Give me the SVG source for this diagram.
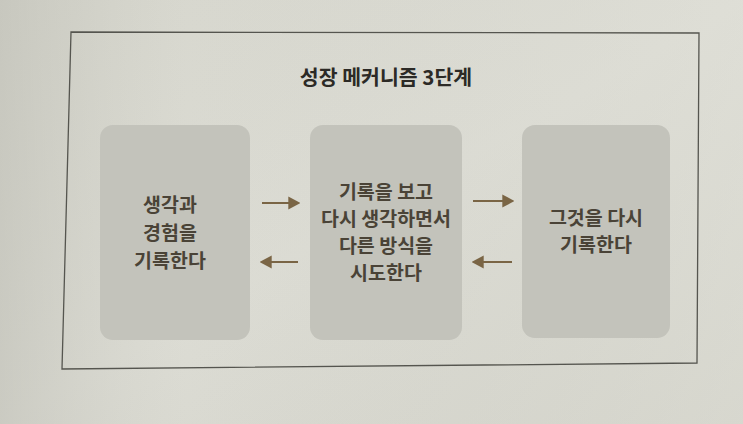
<svg xmlns="http://www.w3.org/2000/svg" width="743" height="424" viewBox="0 0 743 424">
<defs>
<linearGradient id="paper" x1="0" y1="0" x2="1" y2="1">
<stop offset="0" stop-color="#d6d6cd"/>
<stop offset="0.5" stop-color="#dcdcd4"/>
<stop offset="1" stop-color="#d2d2c9"/>
</linearGradient>
<linearGradient id="shade" x1="0" y1="0" x2="1" y2="0">
<stop offset="0" stop-color="#b9b9b0" stop-opacity="0.5"/>
<stop offset="0.25" stop-color="#c9c9c0" stop-opacity="0"/>
<stop offset="1" stop-color="#e4e4dc" stop-opacity="0.3"/>
</linearGradient>
<marker id="ah" viewBox="0 0 10 10" refX="8" refY="5" markerWidth="5.5" markerHeight="6" orient="auto" markerUnits="strokeWidth" preserveAspectRatio="none">
<path d="M0,0 L10,5 L0,10 Z" fill="#7a6545"/>
</marker>
<style>
.box{fill:#c3c3bb;}
.t{font-family:"Noto Sans CJK KR","Noto Sans",sans-serif;font-weight:bold;font-size:19.5px;fill:#4a4337;text-anchor:middle;}
.title{font-family:"Noto Sans CJK KR","Noto Sans",sans-serif;font-weight:bold;font-size:20.5px;fill:#2c2a26;text-anchor:middle;}
.arr{stroke:#7a6545;stroke-width:2.2;fill:none;marker-end:url(#ah);}
</style>
</defs>
<rect width="743" height="424" fill="url(#paper)"/>
<rect width="743" height="424" fill="url(#shade)"/>
<path d="M71,32 L699,33 L697,363 L62,369 Z" fill="none" stroke="#55554f" stroke-width="1.3"/>
<text class="title" x="386" y="85">성장 메커니즘 3단계</text>
<g id="node1">
<rect class="box" x="100" y="125" width="150" height="215" rx="13"/>
<text class="t" x="170" y="212">생각과</text>
<text class="t" x="170" y="240">경험을</text>
<text class="t" x="170" y="268">기록한다</text>
</g>
<g id="node2">
<rect class="box" x="310" y="125" width="152" height="215" rx="13"/>
<text class="t" x="386" y="199">기록을 보고</text>
<text class="t" x="386" y="226">다시 생각하면서</text>
<text class="t" x="386" y="253">다른 방식을</text>
<text class="t" x="386" y="280">시도한다</text>
</g>
<g id="node3">
<rect class="box" x="522" y="125" width="148" height="213" rx="13"/>
<text class="t" x="596" y="225">그것을 다시</text>
<text class="t" x="596" y="252">기록한다</text>
</g>
<g id="connectors">
<line class="arr" x1="262" y1="203" x2="298" y2="203"/>
<line class="arr" x1="298" y1="262" x2="262" y2="262"/>
<line class="arr" x1="473" y1="201" x2="512" y2="201"/>
<line class="arr" x1="512" y1="262" x2="474" y2="262"/>
</g>
</svg>
